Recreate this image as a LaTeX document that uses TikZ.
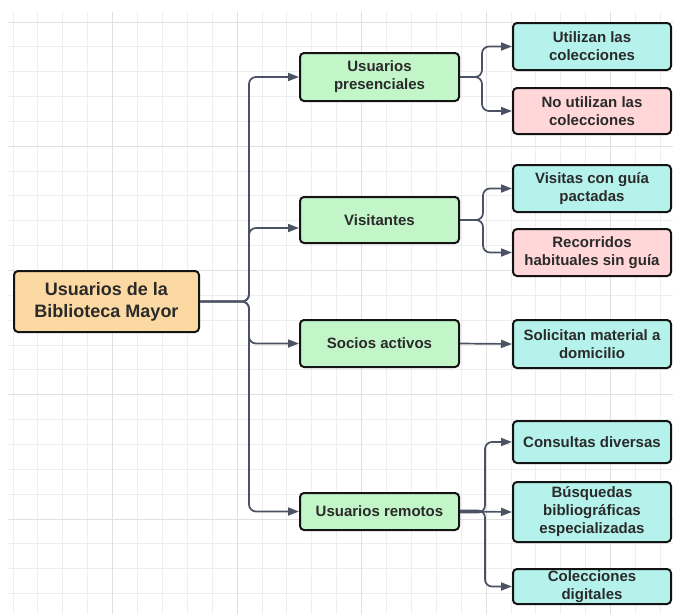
\documentclass[tikz,border=0pt]{standalone}
\usepackage{fontspec}
\setmainfont{Liberation Sans}
\usetikzlibrary{arrows.meta}
\definecolor{gridminor}{HTML}{EEEEEE}
\definecolor{gridmajor}{HTML}{E0E0E0}
\definecolor{rootfill}{HTML}{FCD9A2}
\definecolor{greenfill}{HTML}{C2F5C8}
\definecolor{cyanfill}{HTML}{B5F2EC}
\definecolor{pinkfill}{HTML}{FFD7D8}
\definecolor{txt}{HTML}{2A2A2A}
\definecolor{conncol}{HTML}{4B5263}
\begin{document}
\begin{tikzpicture}[x=1pt,y=-1pt,
  box/.style={draw=black!92, line width=2pt, rounded corners=4pt, align=center,
    font=\bfseries\fontsize{15}{18}\selectfont, text=txt, inner sep=0pt},
  rootbox/.style={box, fill=rootfill, font=\bfseries\fontsize{18}{22}\selectfont},
  midbox/.style={box, fill=greenfill, minimum width=159pt},
  leafc/.style={box, fill=cyanfill, minimum width=158pt},
  leafp/.style={box, fill=pinkfill, minimum width=158pt},
  conn/.style={draw=conncol, line width=1.7pt, rounded corners=7pt,
    -{Triangle[length=11pt,width=8pt]}},
  gmin/.style={draw=gridminor, line width=1pt},
  gmaj/.style={draw=gridmajor, line width=1pt}]
\useasboundingbox (0,0) rectangle (673,614);
\fill[white] (0,0) rectangle (673,614);
% grid
\foreach \k in {0,...,26} {\draw[gmin] ({13+24.9*\k},12) -- ({13+24.9*\k},614);}
\foreach \k in {0,...,23} {\draw[gmin] (8,{22+24.85*\k}) -- (673,{22+24.85*\k});}
\foreach \k in {4,9,14,19,24} {\draw[gmaj] ({13+24.9*\k},12) -- ({13+24.9*\k},614);}
\foreach \k in {0,5,10,15,20} {\draw[gmaj] (8,{22+24.85*\k}) -- (673,{22+24.85*\k});}

% nodes
\node[rootbox, minimum width=185pt, minimum height=61pt] (root) at (106.5,301.5) {Usuarios de la\\Biblioteca Mayor};
\node[midbox, minimum height=48pt] (pres) at (379.5,77) {Usuarios\\presenciales};
\node[midbox, minimum height=46pt] (vis) at (379.5,220) {Visitantes};
\node[midbox, minimum height=47pt] (soc) at (379.5,343.5) {Socios activos};
\node[midbox, minimum height=37pt] (rem) at (379.5,511.5) {Usuarios remotos};

\node[leafc, minimum height=47pt] (util) at (592,46.5) {Utilizan las\\colecciones};
\node[leafp, minimum height=46pt] (noutil) at (592,111) {No utilizan las\\colecciones};
\node[leafc, minimum height=47pt] (visg) at (592,188.5) {Visitas con guía\\pactadas};
\node[leafp, minimum height=47pt] (rec) at (592,252.5) {Recorridos\\habituales sin guía};
\node[leafc, minimum height=48pt] (sol) at (592,344) {Solicitan material a\\domicilio};
\node[leafc, minimum height=42pt] (cons) at (592,442) {Consultas diversas};
\node[leafc, minimum height=60pt] (busq) at (592,512) {Búsquedas\\bibliográficas\\especializadas};
\node[leafc, minimum height=35pt] (coldig) at (592,586.5) {Colecciones\\digitales};

% connectors from root
\draw[conn] (root.east) -- ++(49,0) |- (pres.west);
\draw[conn] (root.east) -- ++(49,0) |- ([yshift=-8pt]vis.west);
\draw[conn] (root.east) -- ++(49,0) |- (soc.west);
\draw[conn] (root.east) -- ++(49,0) |- (rem.west);

% connectors to leaves
\draw[conn] (pres.east) -- ++(22,0) |- (util.west);
\draw[conn] (pres.east) -- ++(22,0) |- (noutil.west);
\draw[conn] (vis.east) -- ++(23,0) |- (visg.west);
\draw[conn] (vis.east) -- ++(23,0) |- (rec.west);
\draw[conn] (soc.east) -- (sol.west);
\draw[conn] ([yshift=-1pt]rem.east) -- ++(25,0) |- (cons.west);
\draw[conn] (rem.east) -- (busq.west);
\draw[conn] ([yshift=1pt]rem.east) -- ++(25,0) |- (coldig.west);
\end{tikzpicture}
\end{document}
